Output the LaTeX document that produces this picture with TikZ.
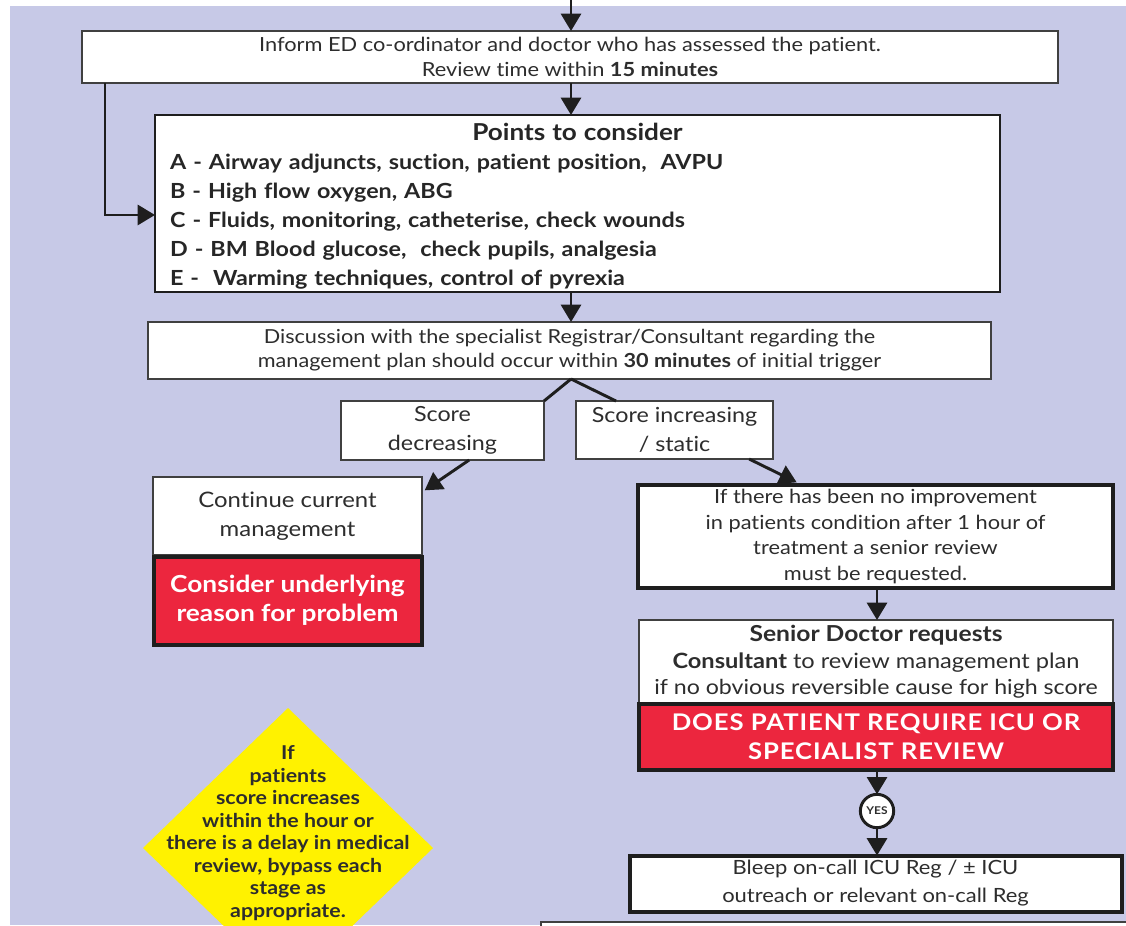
\documentclass[tikz,border=0pt]{standalone}
\usepackage{fontspec}
\setmainfont{Lato}[FakeStretch=1.12,Ligatures=NoCommon]
\usetikzlibrary{arrows.meta,calc}

\definecolor{lav}{RGB}{199,201,231}
\definecolor{nred}{RGB}{236,38,62}
\definecolor{warn}{RGB}{255,242,0}
\definecolor{txt}{RGB}{45,45,45}
\definecolor{edge}{RGB}{30,30,30}

\newcommand{\fs}[2]{\fontsize{#1}{#2}\selectfont}

\begin{document}
\begin{tikzpicture}[x=0.75pt,y=-0.75pt,
  every node/.style={inner sep=0pt,outer sep=0pt},
  thinbox/.style={draw=edge!85,line width=1.1pt,fill=white,align=center,text=txt},
  thickbox/.style={draw=edge,line width=2.4pt,fill=white,align=center,text=txt},
  redbox/.style={draw=edge,line width=3pt,fill=nred,align=center,text=white},
  arr/.style={draw=edge,line width=2.2pt,-{Triangle[length=13pt,width=15pt]}},
  link/.style={draw=edge,line width=2.2pt}]

% page and backdrop
\path[use as bounding box] (0,0) rectangle (1126,925);
\fill[white] (0,0) rectangle (1126,925);
\begin{scope}
\clip (0,0) rectangle (1126,925);
\fill[lav] (10,6) rectangle (1126,925);

% warning diamond
\fill[warn] (288,708) -- (433,848) -- (288,988) -- (143,848) -- cycle;
\node[align=center,text=txt,font=\fs{14.3}{16.9}\bfseries] (warnText) at (288,833)
  {If\\patients\\score increases\\within the hour or\\there is a delay in medical\\review, bypass each\\stage as\\appropriate.};

% partially shown box at the foot
\draw[draw=edge!85,line width=1.5pt,fill=white] (541,922) rectangle (1150,980);

% boxes
\node[thinbox,minimum width=732pt,minimum height=39pt,font=\fs{14.6}{18.75}] (b1) at (570,57)
  {Inform ED co-ordinator and doctor who has assessed the patient.\\Review time within \textbf{15 minutes}};

\node[draw=edge,line width=2pt,fill=white,minimum width=633.75pt,minimum height=132.75pt,
  text width=611pt,align=left,text=black!85,font=\fs{15.6}{21.75}\bfseries] (b2) at (577.5,203.5)
  {\rule{0pt}{17.5pt}\makebox[\linewidth]{\fs{17.5}{21.75}Points to consider}\\
   A - Airway adjuncts, suction, patient position,\ \ AVPU\\
   B - High flow oxygen, ABG\\
   C - Fluids, monitoring, catheterise, check wounds\\
   D - BM Blood glucose,\ \ check pupils, analgesia\\
   E -\ \ Warming techniques, control of pyrexia};

\node[thinbox,minimum width=632.25pt,minimum height=42.75pt,font=\fs{14.5}{18}] (b3) at (569.5,350.5)
  {Discussion with the specialist Registrar/Consultant regarding the\\
   management plan should occur within \textbf{30 minutes} of initial trigger};

\node[thinbox,minimum width=152.25pt,minimum height=44.25pt,font=\fs{15.6}{21.75}] (sd) at (442.5,430.5)
  {Score\\decreasing};
\node[thinbox,minimum width=147.75pt,minimum height=43.5pt,font=\fs{15.6}{21.75}] (si) at (674.5,430)
  {Score increasing\\/ static};

\node[thinbox,minimum width=201.75pt,minimum height=58.5pt,font=\fs{16}{21.75}] (cont) at (287.5,516)
  {Continue current\\management};
\node[redbox,minimum width=201pt,minimum height=66pt,font=\fs{17.6}{21.75}\bfseries] (cr) at (287.5,600.5)
  {Consider underlying\\reason for problem};

\node[thickbox,minimum width=356.25pt,minimum height=77.25pt,font=\fs{14.6}{19.1}] (if) at (875.5,536.5)
  {If there has been no improvement\\in patients condition after 1 hour of\\treatment a senior review\\must be requested.};

\node[thinbox,minimum width=355.5pt,minimum height=63pt,font=\fs{15.5}{19.9}] (sr) at (876,662)
  {\fs{16.5}{19.9}\textbf{Senior Doctor requests}\\\fs{15.8}{19.9}\textbf{Consultant} to review management plan\\if no obvious reversible cause for high score};
\node[redbox,minimum width=356pt,minimum height=50pt,
  font=\addfontfeature{LetterSpace=4}\fs{17.2}{21.75}\bfseries] (dp) at (876,737)
  {DOES PATIENT REQUIRE ICU OR\\SPECIALIST REVIEW};

\node[circle,draw=edge,line width=2.2pt,fill=white,minimum size=25pt,text=txt,
  font=\fs{8}{8}\bfseries] (yes) at (877,811) {YES};

\node[thickbox,line width=3pt,minimum width=369pt,minimum height=42pt,font=\fs{14.7}{21}] (bl) at (875.5,883.5)
  {Bleep on-call ICU Reg / ± ICU\\outreach or relevant on-call Reg};

% connectors
\coordinate (entry) at (571,0);
\coordinate (apex) at (571,379);
\draw[arr] (entry) -- (b1.north -| entry);
\draw[arr] (b1.south -| entry) -- (b2.north -| entry);
\draw[arr] ([xshift=17.25pt]b1.south west) |- ([yshift=-8.6pt]b2.west);
\draw[arr] (b2.south -| entry) -- (b3.north -| entry);
\draw[link] (b3.south -| apex) -- (sd.north east);
\draw[link] (b3.south -| apex) -- ([xshift=30pt]si.north west);
\draw[arr] ([xshift=20pt]sd.south) -- ([shift={(2pt,-10pt)}]cont.north east);
\draw[arr] ([xshift=56pt]si.south) -- ([shift={(119pt,2pt)}]if.north west);
\draw[arr] (if.south -| yes) -- (sr.north -| yes);
\draw[arr] (dp.south -| yes) -- (yes.north);
\draw[arr] (yes.south) -- (bl.north -| yes);
\end{scope}
\end{tikzpicture}
\end{document}
